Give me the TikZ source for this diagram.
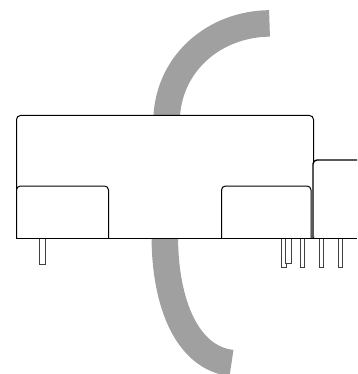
\documentclass[tikz,border=0pt]{standalone}
\usepackage{tikz}
\tikzset{>=stealth}
\definecolor{bandgray}{HTML}{A0A0A0}
\tikzset{
	band/.style={draw=bandgray, line width=26.5},
	casing/.style={draw=black, line width=1, rounded corners=4, fill=white},
	pin/.style={draw=black!75, line width=0.6, fill=white}
}
\begin{document}
\begin{tikzpicture}[x=1pt,y=-1pt,line width=1]
		\path[use as bounding box] (0,0) rectangle (357,374);
		\clip (0,0) rectangle (357,374);
		% the two gray arcs
		\draw[band] (166.7,116) .. controls (170,62) and (215,24) .. (269.5,23.4);
		\draw[band] (164.8,237) .. controls (165,305) and (188,358) .. (231.5,363);
		% pins
		\draw[pin] (39.5,238) rectangle (45.5,264);
		\draw[pin] (281.7,238) rectangle (286,267.7);
		\draw[pin] (285,238) rectangle (291.7,263.7);
		\draw[pin] (300.3,238) rectangle (304.7,267.7);
		\draw[pin] (319.3,238) rectangle (323.7,267.7);
		\draw[pin] (338.3,238) rectangle (342.7,267.7);
		% casing
		\draw[casing] (16.5,238) -- (16.5,115.5) -- (313.5,115.5) -- (313.5,238);
		\draw[casing] (16.5,238) -- (16.5,186) -- (108.5,186) -- (108.5,238);
		\draw[casing] (221.5,238) -- (221.5,186) -- (311,186) -- (311,238);
		\draw[casing, line width=1.4] (360,160) -- (313,160) -- (313,238);
		\draw[black, line width=1] (16,238) -- (357,238);
		\end{tikzpicture}
\end{document}
